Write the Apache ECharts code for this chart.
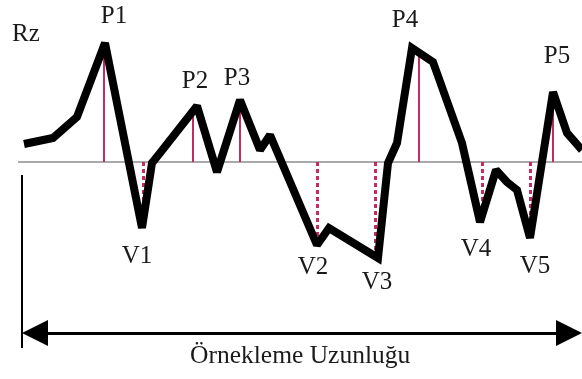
<!DOCTYPE html>
<html>
<head>
<meta charset="utf-8">
<script src="https://cdn.jsdelivr.net/npm/echarts@6/dist/echarts.min.js"></script>
<style>
  html, body { margin: 0; padding: 0; background: #fff; }
  #chart { width: 582px; height: 379px; }
</style>
</head>
<body>
<div id="chart"></div>
<script>
// Surface profile along the sampling length (height relative to the mean line)
const profileX = [24, 53, 77, 105, 142, 152, 160, 197, 217, 240, 260, 270, 317, 329, 378, 388, 397, 412, 433, 462, 480, 496, 507, 517, 530, 553, 567, 582];
const profileY = [18, 24, 45, 119, -66, -1, 9, 56, -10, 62, 12, 27, -83, -66, -96, -1, 19, 114, 100, 19, -60, -8, -20, -28, -76, 70, 29, 12];

// Five highest peaks and five deepest valleys
const peakNames = ['P1', 'P2', 'P3', 'P4', 'P5'];
const peakX = [104, 193, 240, 419, 553];
const peakH = [116, 51, 58, 110, 68];
const valleyNames = ['V1', 'V2', 'V3', 'V4', 'V5'];
const valleyX = [143, 317, 375, 482, 530];
const valleyH = [-64, -82, -93, -55, -74];

// Profile vertices that carry the peak / valley names
const peakTop = [[105, 119], [197, 56], [240, 62], [412, 114], [553, 70]];
const valleyBottom = [[142, -66], [317, -83], [378, -96], [480, -60], [530, -76]];

const meanStart = 18;
const sampleStart = 22, sampleEnd = 582, sampleLevel = -171;
const axisTitle = 'Rz';
const lengthTitle = 'Örnekleme Uzunluğu';

const serif = '"Liberation Serif", "Times New Roman", serif';
const accent = '#c42a63';
const arrowSize = 26;          // arrowhead box, tips sit on the bracket ends
const arrowHalf = arrowSize / 2;

const chart = echarts.init(document.getElementById('chart'), null, { renderer: 'canvas' });

const peakOffsets = [[9, -27], [-2, -25], [-3, -22], [-7, -28], [4, -36]];
const valleyOffsets = [[-5, 28], [-4, 22], [-1, 24], [-4, 27], [5, 28]];

const labelStyle = { show: true, fontFamily: serif, fontSize: 25, color: '#1a1a1a', position: 'inside' };

chart.setOption({
  animation: false,
  grid: { left: 0, right: 0, top: 0, bottom: 0 },
  xAxis: { type: 'value', min: 0, max: 582, show: false },
  yAxis: { type: 'value', min: -217, max: 162, show: false },
  graphic: [
    { type: 'text', left: 12, top: 22, style: { text: axisTitle, font: '25px ' + serif, fill: '#1a1a1a' } },
    { type: 'text', left: 190, top: 343, style: { text: lengthTitle, font: '25.5px ' + serif, fill: '#1a1a1a' } }
  ],
  series: [
    // mean line
    {
      type: 'line', data: [], silent: true,
      markLine: {
        symbol: 'none', silent: true, label: { show: false },
        lineStyle: { color: '#8c8c8c', width: 1.5, type: 'solid' },
        data: [[{ coord: [meanStart, 0] }, { coord: [582, 0] }]]
      }
    },
    // peak heights (solid) and valley depths (dotted)
    {
      type: 'line', data: [], silent: true,
      markLine: {
        symbol: 'none', silent: true, label: { show: false },
        data: peakX.map((x, i) => [
          { coord: [x, 0], lineStyle: { color: accent, width: 2, type: 'solid' } },
          { coord: [x, peakH[i]] }
        ]).concat(valleyX.map((x, i) => [
          { coord: [x, 0], lineStyle: { color: accent, width: 3, type: [4, 3] } },
          { coord: [x, valleyH[i]] }
        ]))
      }
    },
    // sampling length arrow
    {
      type: 'line', data: [], silent: true,
      markLine: {
        silent: true, label: { show: false },
        symbol: ['triangle', 'triangle'], symbolSize: arrowSize,
        lineStyle: { color: '#000', width: 3, type: 'solid' },
        data: [[{ coord: [sampleStart + arrowHalf, sampleLevel] }, { coord: [sampleEnd - arrowHalf, sampleLevel] }]]
      }
    },
    // left end of the sampling length
    {
      type: 'line', data: [], silent: true,
      markLine: {
        silent: true, label: { show: false }, symbol: 'none',
        lineStyle: { color: '#000', width: 2, type: 'solid' },
        data: [[{ coord: [sampleStart, -13] }, { coord: [sampleStart, -186] }]]
      }
    },
    // the profile itself
    {
      type: 'line',
      data: profileX.map((x, i) => [x, profileY[i]]),
      showSymbol: false, symbol: 'none', smooth: false,
      lineStyle: { color: '#000', width: 8, join: 'miter', miterLimit: 2, cap: 'butt' },
      z: 5,
      markPoint: {
        symbol: 'circle', symbolSize: 0, silent: true,
        data: peakNames.map((n, i) => ({
          name: n, coord: peakTop[i],
          label: Object.assign({}, labelStyle, { formatter: n, offset: peakOffsets[i] })
        })).concat(valleyNames.map((n, i) => ({
          name: n, coord: valleyBottom[i],
          label: Object.assign({}, labelStyle, { formatter: n, offset: valleyOffsets[i] })
        })))
      }
    }
  ]
});
</script>
</body>
</html>
